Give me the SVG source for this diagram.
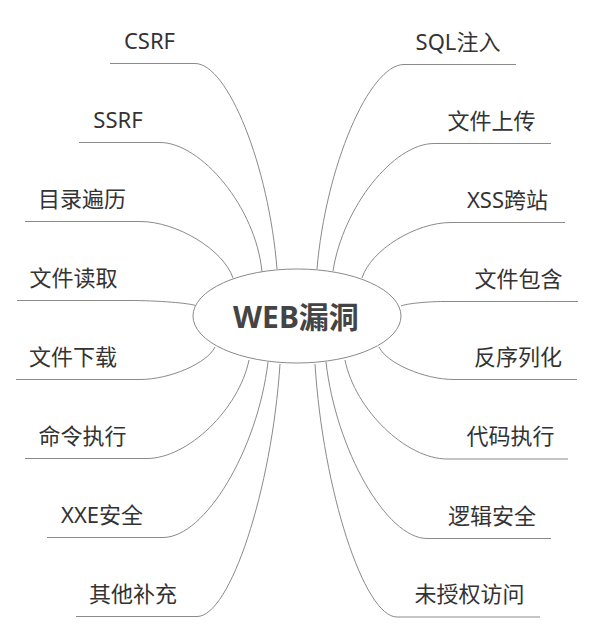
<svg xmlns="http://www.w3.org/2000/svg" width="594" height="633" viewBox="0 0 594 633">
<style>
.c{fill:none;stroke:#8a8a8a;stroke-width:1}
.t{font-family:"Noto Sans","Noto Sans CJK SC",sans-serif;font-size:22px;fill:#333;text-anchor:middle}
.m{font-family:"Noto Sans","Noto Sans CJK SC",sans-serif;font-size:30px;font-weight:bold;fill:#444;text-anchor:middle}
</style>
<rect width="594" height="633" fill="#fff"/>
<g id="connectors">
<path class="c" d="M277,269 C268.8,166 227.8,63.5 195,63.5 L110,63.5"/>
<path class="c" d="M262,272 C255.8,207 200.8,142.5 160,142.5 L79,142.5"/>
<path class="c" d="M233,278 C223.7,250 177,221.5 140,221.5 L25,221.5"/>
<path class="c" d="M197,306 C190.3,303 156.8,300.5 130,300.5 L17,300.5"/>
<path class="c" d="M215,347 C207.5,363 170,379.5 140,379.5 L16,379.5"/>
<path class="c" d="M249,360 C239,409 187.8,458.5 147,458.5 L25,458.5"/>
<path class="c" d="M268,362 C257.5,450 205,537.5 163,537.5 L47,537.5"/>
<path class="c" d="M280,364 C271.7,490 230,616.5 197,616.5 L76,616.5"/>
<path class="c" d="M317,269 C325.7,167 369,64.5 404,64.5 L516,64.5"/>
<path class="c" d="M333,271 C343,207 393.6,143.5 434,143.5 L551,143.5"/>
<path class="c" d="M362,278 C370.9,250 415.4,222.5 451,222.5 L565,222.5"/>
<path class="c" d="M401,306 C405.3,303.8 426.8,301.5 444,301.5 L578,301.5"/>
<path class="c" d="M379,347 C386.5,363 424,379.5 454,379.5 L577,379.5"/>
<path class="c" d="M345,360 C355,409.5 406,459 447,459 L568,459"/>
<path class="c" d="M326,362 C336,450 386.6,538.5 427,538.5 L551,538.5"/>
<path class="c" d="M315,364 C323,490 364,617 397,617 L540,617"/>
</g>
<g id="center">
<ellipse cx="297" cy="316" rx="104" ry="47" fill="#fff" stroke="#8a8a8a" stroke-width="1"/>
<text class="m" x="296" y="328">WEB漏洞</text>
</g>
<g id="n-csrf"><text class="t" x="149.5" y="48.5">CSRF</text></g>
<g id="n-ssrf"><text class="t" x="118" y="127.5">SSRF</text></g>
<g id="n-dir"><text class="t" x="82" y="206.5">目录遍历</text></g>
<g id="n-read"><text class="t" x="73.5" y="285.5">文件读取</text></g>
<g id="n-download"><text class="t" x="73" y="364.5">文件下载</text></g>
<g id="n-cmd"><text class="t" x="82.5" y="443.5">命令执行</text></g>
<g id="n-xxe"><text class="t" x="102" y="522.5">XXE安全</text></g>
<g id="n-other"><text class="t" x="133" y="601.5">其他补充</text></g>
<g id="n-sql"><text class="t" x="458" y="49.5">SQL注入</text></g>
<g id="n-upload"><text class="t" x="491.5" y="128.5">文件上传</text></g>
<g id="n-xss"><text class="t" x="507.5" y="207.5">XSS跨站</text></g>
<g id="n-include"><text class="t" x="518.5" y="286.5">文件包含</text></g>
<g id="n-deser"><text class="t" x="518" y="364.5">反序列化</text></g>
<g id="n-code"><text class="t" x="510.5" y="444">代码执行</text></g>
<g id="n-logic"><text class="t" x="492" y="523.5">逻辑安全</text></g>
<g id="n-unauth"><text class="t" x="469.5" y="602">未授权访问</text></g>
</svg>
